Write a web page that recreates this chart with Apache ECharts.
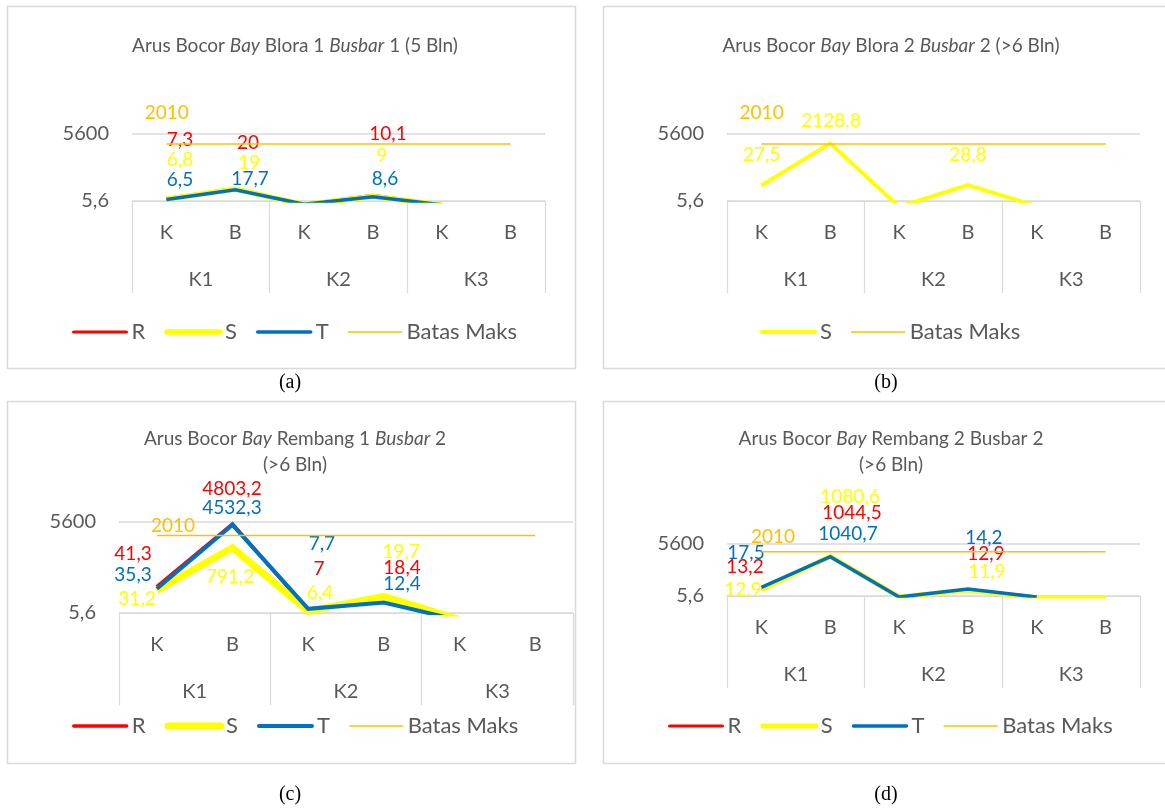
<!DOCTYPE html>
<html>
<head>
<meta charset="utf-8">
<script src="https://cdn.jsdelivr.net/npm/echarts@6/dist/echarts.min.js"></script>
<style>
  html, body { margin: 0; padding: 0; background: #ffffff; }
  #chart { width: 1165px; height: 809px; }
</style>
</head>
<body>
<div id="chart"></div>
<script>
// ---- data ----
const subCategories = ['K', 'B', 'K', 'B', 'K', 'B'];
const groupCategories = ['K1', 'K2', 'K3'];
const yTickValues = [5.6, 5600];
const yTickLabels = ['5,6', '5600'];
const batasMaks = [2010, 2010, 2010, 2010, 2010, 2010];

// Blora 1 Busbar 1 (5 Bln)
const blora1R = [7.3, 20, 4.0, 10.1, 3.8, null];
const blora1S = [6.8, 19, 3.8, 9, 3.8, null];
const blora1T = [6.5, 17.7, 4.0, 8.6, 3.8, null];
// Blora 2 Busbar 2 (>6 Bln)
const blora2S = [27.5, 2128.8, 3.1, 28.8, 3.3, null];
// Rembang 1 Busbar 2 (>6 Bln)
const rembang1R = [41.3, 4803.2, 7, 18.4, 3.3, null];
const rembang1S = [31.2, 791.2, 6.4, 19.7, 3.4, null];
const rembang1T = [35.3, 4532.3, 7.7, 12.4, 3.2, null];
// Rembang 2 Busbar 2 (>6 Bln)
const rembang2R = [13.2, 1044.5, 4.9, 12.9, 4.9, null];
const rembang2S = [12.9, 1080.6, 5.0, 11.9, 4.4, 4.4];
const rembang2T = [17.5, 1040.7, 4.9, 14.2, 4.9, null];

// ---- styling ----
const COLORS = { R: '#FF0000', S: '#FFFF00', T: '#0070C0', 'Batas Maks': '#FFC000' };
const GREY_TEXT = '#595959';
const GRID_LINE = '#D9D9D9';
const FONT = 'Lato';

// label offsets (px) from each point, per series
const panels = [
  {
    grid: { left: 132, top: 134, width: 413, height: 67 },
    title: '{n|Arus Bocor }{i|Bay}{n| Blora 1 }{i|Busbar}{n| 1 (5 Bln)}',
    titleX: 290, titleY: 28,
    box: [7, 6, 568, 362],
    caption: '(a)', captionX: 290, captionY: 383,
    legendLeft: 67, legendTop: 316,
    series: [
      { name: 'R', data: blora1R, width: 3,
        offsets: [[13.6, -58.4], [12.8, -46], null, [15.1, -61], null, null] },
      { name: 'S', data: blora1S, width: 5.5,
        offsets: [[13.6, -39.1], [14.1, -26.5], null, [8.8, -40.4], null, null] },
      { name: 'T', data: blora1T, width: 3.5,
        offsets: [[13.6, -19.6], [14.8, -10.9], null, [12.1, -17.6], null, null] },
      { name: 'Batas Maks', data: batasMaks, width: 1.5,
        offsets: [[0.3, -31], null, null, null, null, null] }
    ]
  },
  {
    grid: { left: 727, top: 134, width: 413, height: 67 },
    title: '{n|Arus Bocor }{i|Bay}{n| Blora 2 }{i|Busbar}{n| 2 (>6 Bln)}',
    titleX: 886, titleY: 28,
    box: [603, 6, 600, 362],
    caption: '(b)', captionX: 886, captionY: 383,
    legendLeft: 755, legendTop: 316,
    series: [
      { name: 'S', data: blora2S, width: 4,
        offsets: [[0.2, -30.7], [0.7, -23], null, [0, -30.3], null, null] },
      { name: 'Batas Maks', data: batasMaks, width: 1.5,
        offsets: [[0.2, -31.2], null, null, null, null, null] }
    ]
  },
  {
    grid: { left: 119, top: 522, width: 454, height: 91 },
    title: '{n|Arus Bocor }{i|Bay}{n| Rembang 1 }{i|Busbar}{n| 2}\n{n|(>6 Bln)}',
    titleX: 290, titleY: 421,
    box: [7, 401, 568, 362],
    caption: '(c)', captionX: 290, captionY: 795,
    legendLeft: 67, legendTop: 710,
    series: [
      { name: 'R', data: rembang1R, width: 3.5,
        offsets: [[-23.8, -32.6], [-0.5, -35.3], [10.8, -40.8], [18.2, -29.1], null, null] },
      { name: 'S', data: rembang1S, width: 7,
        offsets: [[-19.8, 8.8], [-2.5, 29.1], [11.8, -18], [17.2, -44.2], null, null] },
      { name: 'T', data: rembang1T, width: 4,
        offsets: [[-23.8, -13.6], [-0.5, -17.1], [13.8, -64.5], [18.2, -18.3], null, null] },
      { name: 'Batas Maks', data: batasMaks, width: 1.5,
        offsets: [[16.2, -9.7], null, null, null, null, null] }
    ]
  },
  {
    grid: { left: 727, top: 544, width: 413, height: 52 },
    title: '{n|Arus Bocor }{i|Bay}{n| Rembang 2 Busbar 2}\n{n|(>6 Bln)}',
    titleX: 886, titleY: 421,
    box: [603, 401, 600, 362],
    caption: '(d)', captionX: 886, captionY: 795,
    legendLeft: 663, legendTop: 710,
    series: [
      { name: 'R', data: rembang2R, width: 3,
        offsets: [[-16.4, -22.3], [21.7, -43.8], null, [18, -35.5], null, null] },
      { name: 'S', data: rembang2S, width: 5,
        offsets: [[-18.4, 0.5], [19.7, -59.5], null, [19, -18.1], null, null] },
      { name: 'T', data: rembang2T, width: 3.5,
        offsets: [[-15.4, -34.2], [17.7, -22.8], null, [16, -50.8], null, null] },
      { name: 'Batas Maks', data: batasMaks, width: 1.5,
        offsets: [[11.6, -14.9], null, null, null, null, null] }
    ]
  }
];

function fmtNum(v) {
  return String(v).replace('.', ',');
}

function yLabel(v) {
  for (let i = 0; i < yTickValues.length; i++) {
    if (Math.abs(v - yTickValues[i]) / yTickValues[i] < 1e-6) return yTickLabels[i];
  }
  return '';
}

const option = {
  animation: false,
  backgroundColor: '#ffffff',
  textStyle: { fontFamily: FONT },
  title: [], grid: [], xAxis: [], yAxis: [], legend: [], series: [],
  graphic: []
};

panels.forEach((p, gi) => {
  option.grid.push(Object.assign({ containLabel: false }, p.grid));

  option.title.push({
    text: p.title,
    left: p.titleX, top: p.titleY, textAlign: 'center',
    textStyle: {
      fontWeight: 'normal',
      rich: {
        n: { fontFamily: FONT, fontSize: 19, fontWeight: 'normal', color: GREY_TEXT, lineHeight: 26 },
        i: { fontFamily: FONT, fontSize: 19, fontWeight: 'normal', color: GREY_TEXT, fontStyle: 'italic', lineHeight: 26 }
      }
    }
  });

  // lower level categories (K / B)
  option.xAxis.push({
    type: 'category', gridIndex: gi, data: subCategories, boundaryGap: true,
    axisLine: { show: true, lineStyle: { color: GRID_LINE, width: 1 } },
    axisTick: { show: false },
    axisLabel: { color: GREY_TEXT, fontSize: 20, fontFamily: FONT, margin: 22, interval: 0 },
    splitLine: { show: false }
  });
  // upper level groups (K1 / K2 / K3) with separators
  option.xAxis.push({
    type: 'category', gridIndex: gi, data: groupCategories, boundaryGap: true,
    position: 'bottom',
    axisLine: { show: false },
    axisTick: { show: true, length: 92, lineStyle: { color: GRID_LINE, width: 1.2 } },
    axisLabel: { color: GREY_TEXT, fontSize: 20, fontFamily: FONT, margin: 69, interval: 0 },
    splitLine: { show: false }
  });

  option.yAxis.push({
    type: 'log', gridIndex: gi, logBase: 1000, min: 5.6, max: 5600, splitNumber: 1,
    axisLine: { show: false }, axisTick: { show: false },
    axisLabel: { color: GREY_TEXT, fontSize: 20, fontFamily: FONT, margin: 23, formatter: yLabel },
    splitLine: { show: true, lineStyle: { color: [GRID_LINE, 'rgba(0,0,0,0)', GRID_LINE], width: 1.5 } }
  });

  option.legend.push({
    left: p.legendLeft, top: p.legendTop, orient: 'horizontal',
    itemWidth: 53, itemHeight: 14, itemGap: 19,
    textStyle: { color: GREY_TEXT, fontSize: 22, fontFamily: FONT },
    itemStyle: { opacity: 0 },
    data: p.series.map(s => ({ name: s.name, lineStyle: { width: s.width, color: COLORS[s.name], cap: 'round' } }))
  });

  p.series.forEach(s => {
    const isLimit = s.name === 'Batas Maks';
    option.series.push({
      name: s.name, type: 'line',
      xAxisIndex: gi * 2, yAxisIndex: gi,
      data: s.data.map((v, i) => {
        const off = s.offsets[i];
        return {
          value: v,
          label: off ? { show: true, offset: off } : { show: false }
        };
      }),
      symbol: 'circle', symbolSize: 0, showSymbol: true,
      lineStyle: { color: COLORS[s.name], width: s.width, join: 'miter' },
      itemStyle: { color: COLORS[s.name] },
      clip: true,
      z: isLimit ? 4 : 3,
      label: {
        position: 'inside', color: COLORS[s.name], fontSize: 19, fontFamily: FONT,
        formatter: prm => (prm.value != null && prm.value >= 5.6 ? fmtNum(prm.value) : '')
      },
      emphasis: { disabled: true }
    });
  });

  // chart frame
  option.graphic.push({
    type: 'rect', silent: true,
    shape: { x: p.box[0] + 0.5, y: p.box[1] + 0.5, width: p.box[2], height: p.box[3] },
    style: { fill: 'none', stroke: GRID_LINE, lineWidth: 1.5 }
  });
  // sub-figure caption
  option.graphic.push({
    type: 'text', silent: true,
    x: p.captionX, y: p.captionY,
    style: {
      text: p.caption, fill: '#000000', font: '20px "Liberation Serif"',
      textAlign: 'center', textVerticalAlign: 'middle'
    }
  });
});

const chart = echarts.init(document.getElementById('chart'), null, { renderer: 'canvas' });
chart.setOption(option);
</script>
</body>
</html>
